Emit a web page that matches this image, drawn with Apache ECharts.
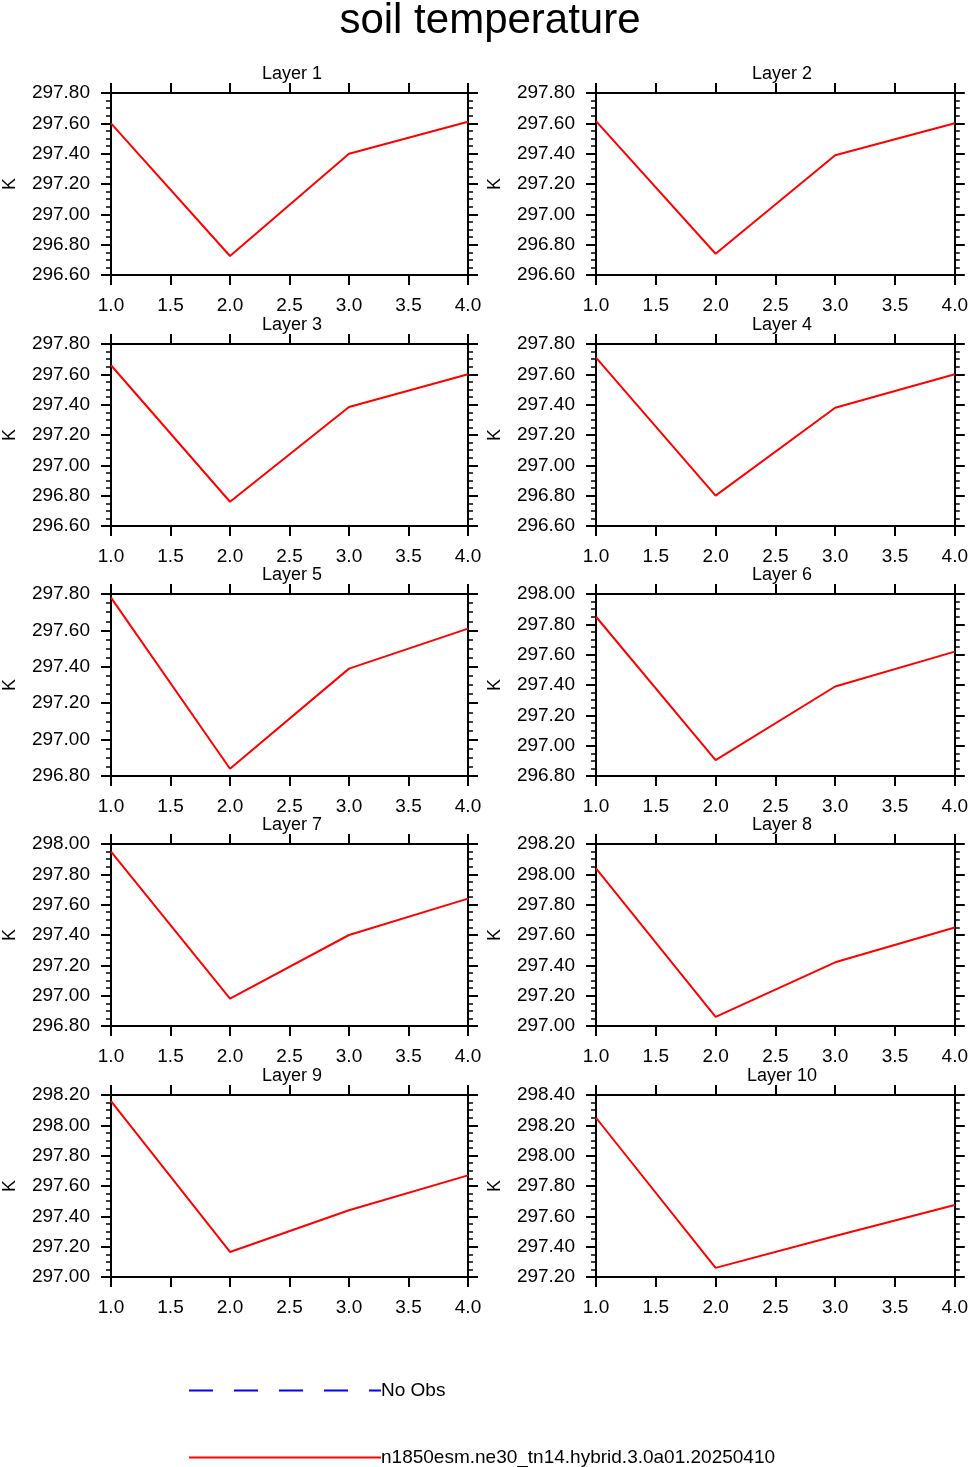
<!DOCTYPE html>
<html>
<head>
<meta charset="utf-8">
<script src="https://cdn.jsdelivr.net/npm/echarts@6/dist/echarts.min.js"></script>
<style>
  html, body { margin: 0; padding: 0; background: #fff; }
  #main { width: 971px; height: 1467px; }
</style>
</head>
<body>
<div id="main"></div>
<script>
// x positions shared by every layer
var xVals = [1, 2, 3, 4];
var layerNames = ['Layer 1', 'Layer 2', 'Layer 3', 'Layer 4', 'Layer 5',
                  'Layer 6', 'Layer 7', 'Layer 8', 'Layer 9', 'Layer 10'];
// soil temperature (K), one list per layer
var layer1  = [297.60, 296.725, 297.40, 297.61];
var layer2  = [297.615, 296.74, 297.39, 297.60];
var layer3  = [297.66, 296.76, 297.385, 297.60];
var layer4  = [297.71, 296.80, 297.38, 297.60];
var layer5  = [297.78, 296.84, 297.39, 297.61];
var layer6  = [297.85, 296.905, 297.39, 297.62];
var layer7  = [297.95, 296.98, 297.40, 297.64];
var layer8  = [298.04, 297.06, 297.42, 297.65];
var layer9  = [298.16, 297.165, 297.44, 297.67];
var layer10 = [298.25, 297.26, 297.47, 297.675];
var layers = [layer1, layer2, layer3, layer4, layer5, layer6, layer7, layer8, layer9, layer10];
// y axis ranges per layer
var yMins = [296.6, 296.6, 296.6, 296.6, 296.8, 296.8, 296.8, 297.0, 297.0, 297.2];
var yMaxs = [297.8, 297.8, 297.8, 297.8, 297.8, 298.0, 298.0, 298.2, 298.2, 298.4];
var caseName = 'n1850esm.ne30_tn14.hybrid.3.0a01.20250410';
var obsName = 'No Obs';

var FONT = '"Liberation Sans", Arial, Helvetica, sans-serif';
var chart = echarts.init(document.getElementById('main'));

var colLeft = [106, 596];
var rowTop = [93, 344, 594, 844, 1095];
var plotW = 362, plotH = 182;

var grids = [], xAxes = [], yAxes = [], series = [];
var titles = [{
  text: 'soil temperature',
  left: 485, top: -5, textAlign: 'center',
  textStyle: { fontFamily: FONT, fontSize: 42, fontWeight: 'normal', color: '#000' }
}];

var lineAx = { show: true, onZero: false, lineStyle: { color: '#000', width: 2 } };
var majTick = { show: true, inside: false, length: 10, lineStyle: { color: '#000', width: 2 } };
var minTick = { show: true, splitNumber: 4, length: 5, lineStyle: { color: '#000', width: 1.5 } };

for (var i = 0; i < layers.length; i++) {
  var col = i % 2, row = Math.floor(i / 2);
  grids.push({ left: colLeft[col], top: rowTop[row], width: plotW, height: plotH, containLabel: false });
  titles.push({
    text: layerNames[i],
    left: colLeft[col] + plotW / 2, top: rowTop[row] - 33, textAlign: 'center',
    textStyle: { fontFamily: FONT, fontSize: 18, fontWeight: 'normal', color: '#000' }
  });
  // bottom x
  xAxes.push({
    gridIndex: i, type: 'value', position: 'bottom', min: 1, max: 4, interval: 0.5,
    axisLine: lineAx, axisTick: majTick,
    axisLabel: { margin: 21, fontFamily: FONT, fontSize: 19, color: '#000',
      formatter: function (v) { return v.toFixed(1); } },
    splitLine: { show: false }
  });
  // top x (ticks only)
  xAxes.push({
    gridIndex: i, type: 'value', position: 'top', min: 1, max: 4, interval: 0.5,
    axisLine: lineAx, axisTick: majTick,
    axisLabel: { show: false },
    splitLine: { show: false }
  });
  // left y
  yAxes.push({
    gridIndex: i, type: 'value', position: 'left', min: yMins[i], max: yMaxs[i], interval: 0.2,
    name: 'K', nameLocation: 'middle', nameGap: 92,
    nameTextStyle: { fontFamily: FONT, fontSize: 18, color: '#000' },
    axisLine: lineAx, axisTick: majTick, minorTick: minTick,
    axisLabel: { margin: 21, fontFamily: FONT, fontSize: 19, color: '#000',
      formatter: function (v) { return v.toFixed(2); } },
    splitLine: { show: false }, minorSplitLine: { show: false }
  });
  // right y (ticks only)
  yAxes.push({
    gridIndex: i, type: 'value', position: 'right', min: yMins[i], max: yMaxs[i], interval: 0.2,
    axisLine: lineAx, axisTick: majTick, minorTick: minTick,
    axisLabel: { show: false },
    splitLine: { show: false }, minorSplitLine: { show: false }
  });
  series.push({
    name: caseName, type: 'line',
    xAxisIndex: 2 * i, yAxisIndex: 2 * i,
    data: xVals.map(function (x, k) { return [x, layers[i][k]]; }),
    symbol: 'none', lineStyle: { color: '#ff0000', width: 2 }, itemStyle: { color: '#ff0000' }
  });
}

series.push({
  name: obsName, type: 'line', xAxisIndex: 0, yAxisIndex: 0, data: [],
  symbol: 'none', lineStyle: { color: '#0000ff', width: 1.5, type: [24, 21] }, itemStyle: { color: '#0000ff' }
});

function legendAt(name, top) {
  return {
    left: 188, top: top, padding: 0,
    data: [name],
    itemWidth: 192, itemHeight: 14, itemGap: 0,
    itemStyle: { opacity: 0 },
    textStyle: { fontFamily: FONT, fontSize: 19, color: '#000', padding: [0, 0, 0, -5] }
  };
}

chart.setOption({
  animation: false,
  title: titles,
  grid: grids,
  xAxis: xAxes,
  yAxis: yAxes,
  legend: [legendAt(obsName, 1381), legendAt(caseName, 1448)],
  series: series
});
</script>
</body>
</html>
